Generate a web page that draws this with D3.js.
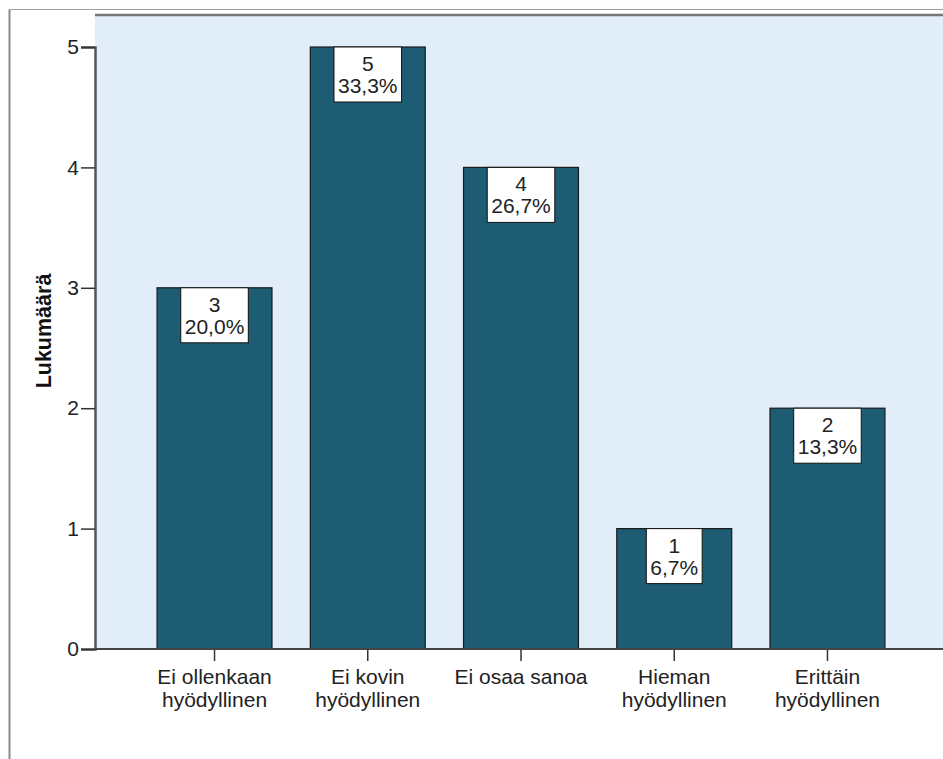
<!DOCTYPE html>
<html>
<head>
<meta charset="utf-8">
<script src="https://cdnjs.cloudflare.com/ajax/libs/d3/7.8.5/d3.min.js"></script>
<style>
  body { margin: 0; background: #fff; }
  text { font-family: "Liberation Sans", Arial, sans-serif; }
</style>
</head>
<body>
<div id="chart"></div>
<script>
// categories (two-line labels) and counts
var categories = ["Ei ollenkaan|hyödyllinen", "Ei kovin|hyödyllinen", "Ei osaa sanoa", "Hieman|hyödyllinen", "Erittäin|hyödyllinen"];
var counts = [3, 5, 4, 1, 2];
var percents = ["20,0%", "33,3%", "26,7%", "6,7%", "13,3%"];
var yTicks = [0, 1, 2, 3, 4, 5];

var width = 943, height = 759;
var plot = {left: 95, top: 15, right: 947, bottom: 649};
var fontSize = "21px";

var svg = d3.select("#chart").append("svg")
  .attr("width", width)
  .attr("height", height);

// outer frame
svg.append("line").attr("x1", 9.5).attr("x2", width).attr("y1", 9.5).attr("y2", 9.5)
  .attr("stroke", "#a0a0a0").attr("stroke-width", 1);
svg.append("line").attr("x1", 9.5).attr("x2", 9.5).attr("y1", 9.5).attr("y2", height)
  .attr("stroke", "#8a8a8a").attr("stroke-width", 2);

var x = d3.scaleBand()
  .domain(categories)
  .range([plot.left, plot.right])
  .paddingInner(0.25)
  .paddingOuter(0.405);

var y = d3.scaleLinear()
  .domain([0, 5])
  .range([plot.bottom, 47]);

// plot background
svg.append("rect")
  .attr("x", plot.left).attr("y", plot.top)
  .attr("width", plot.right - plot.left).attr("height", plot.bottom - plot.top)
  .attr("fill", "#e1edf9");

// top border of plot
svg.append("line").attr("x1", plot.left).attr("x2", width).attr("y1", plot.top).attr("y2", plot.top)
  .attr("stroke", "#777").attr("stroke-width", 2.5);

// bars
svg.selectAll("rect.bar")
  .data(counts)
  .enter().append("rect")
  .attr("class", "bar")
  .attr("x", function(d, i) { return x(categories[i]); })
  .attr("y", function(d) { return y(d); })
  .attr("width", x.bandwidth())
  .attr("height", function(d) { return y(0) - y(d); })
  .attr("fill", "#1d5c72")
  .attr("stroke", "#1a1a1a")
  .attr("stroke-width", 1.2);

// y axis
var yAxis = svg.append("g")
  .attr("transform", "translate(" + plot.left + ",0)")
  .call(d3.axisLeft(y).tickValues(yTicks).tickFormat(d3.format("d")).tickSize(14).tickPadding(2));
yAxis.select(".domain").attr("stroke", "#555").attr("stroke-width", 2.5);
yAxis.selectAll(".tick line").attr("stroke", "#333").attr("stroke-width", 1.5);
yAxis.selectAll(".tick text").attr("font-size", fontSize).attr("fill", "#222")
  .attr("font-family", "Liberation Sans, Arial, sans-serif");

// x axis
var xAxis = svg.append("g")
  .attr("transform", "translate(0," + plot.bottom + ")")
  .call(d3.axisBottom(x).tickSize(12).tickFormat(""));
xAxis.select(".domain").remove();
svg.append("line").attr("x1", plot.left).attr("x2", width).attr("y1", plot.bottom).attr("y2", plot.bottom)
  .attr("stroke", "#444").attr("stroke-width", 2);
xAxis.selectAll(".tick line").attr("stroke", "#333").attr("stroke-width", 1.5);

xAxis.selectAll(".tick").each(function(d) {
  var lines = d.split("|");
  var t = d3.select(this).append("text")
    .attr("text-anchor", "middle")
    .attr("fill", "#222")
    .attr("font-size", fontSize)
    .attr("font-family", "Liberation Sans, Arial, sans-serif");
  lines.forEach(function(l, k) {
    t.append("tspan").attr("x", 0).attr("y", 35 + k * 23).text(l);
  });
});

// y title
svg.append("text")
  .attr("transform", "translate(51,331) rotate(-90)")
  .attr("text-anchor", "middle")
  .attr("font-size", "21.5px")
  .attr("font-weight", "bold")
  .attr("fill", "#111")
  .text("Lukumäärä");

// value labels
var labels = svg.selectAll("g.lbl")
  .data(counts)
  .enter().append("g")
  .attr("class", "lbl")
  .attr("transform", function(d, i) {
    return "translate(" + (x(categories[i]) + x.bandwidth() / 2) + "," + y(d) + ")";
  });

labels.each(function(d, i) {
  var g = d3.select(this);
  var box = g.append("rect").attr("fill", "#fff").attr("stroke", "#111").attr("stroke-width", 1);
  var t = g.append("text").attr("text-anchor", "middle").attr("font-size", fontSize).attr("fill", "#222");
  t.append("tspan").attr("x", 0).attr("y", 24).text(d);
  t.append("tspan").attr("x", 0).attr("y", 46).text(percents[i]);
  var w = t.node().getBBox().width + 8;
  box.attr("x", -w / 2).attr("y", 0).attr("width", w).attr("height", 55);
});
</script>
</body>
</html>
